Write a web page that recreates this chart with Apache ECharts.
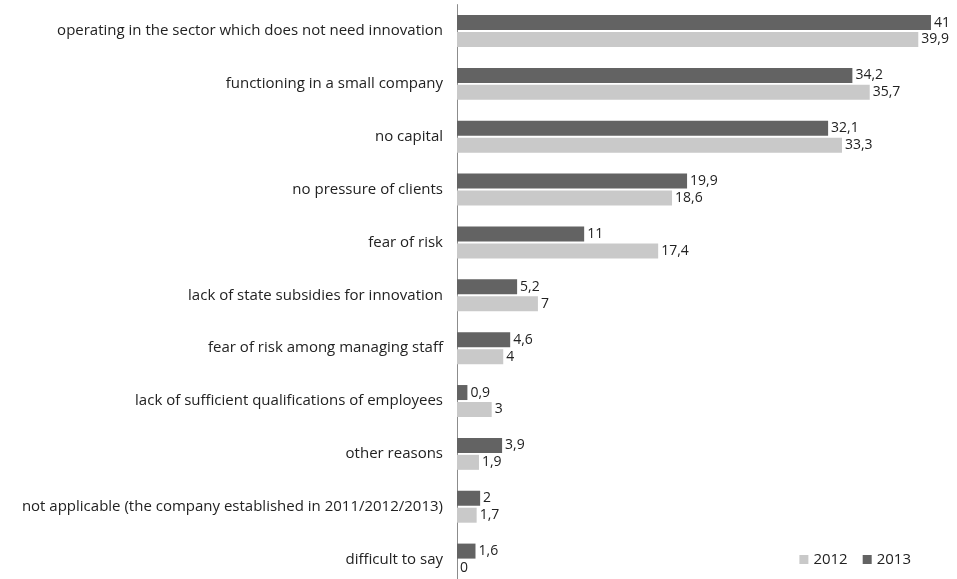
<!DOCTYPE html>
<html>
<head>
<meta charset="utf-8">
<script src="https://cdn.jsdelivr.net/npm/echarts@6/dist/echarts.min.js"></script>
<style>
html, body { margin: 0; padding: 0; background: #fff; overflow: hidden; }
#draw { width: 957px; height: 586px; }
</style>
</head>
<body>
<div id="draw"></div>
<script>
var categories = [
	'operating in the sector which does not need innovation',
	'functioning in a small company',
	'no capital',
	'no pressure of clients',
	'fear of risk',
	'lack of state subsidies for innovation',
	'fear of risk among managing staff',
	'lack of sufficient qualifications of employees',
	'other reasons',
	'not applicable (the company established in 2011/2012/2013)',
	'difficult to say'
];
var values2013 = [41, 34.2, 32.1, 19.9, 11, 5.2, 4.6, 0.9, 3.9, 2, 1.6];
var values2012 = [39.9, 35.7, 33.3, 18.6, 17.4, 7, 4, 3, 1.9, 1.7, 0];

var font = '"Open Sans", Lato, sans-serif';
// 画布比窗口高一点, 最后一类的下半截被裁掉
var myChart = echarts.init(document.getElementById('draw'));

// 数值用逗号做小数点
var fmt = function(p) {
	return String(p.value).replace('.', ',');
};

var option = {
	animation : false,
	textStyle : { fontFamily : font },
	legend : {
		data : [ '2012', '2013' ],
		right : 41,
		bottom : 14,
		itemWidth : 9,
		itemHeight : 9,
		itemGap : 15,
		icon : 'rect',
		textStyle : { fontSize : 15, color : '#222', fontFamily : font }
	},
	grid : {
		left : 457,
		right : 26,
		top : 4.6,
		bottom : 0
	},
	xAxis : {
		type : 'value',
		min : 0,
		max : 41,
		show : false
	},
	yAxis : {
		type : 'category',
		inverse : true,
		data : categories,
		axisLine : { lineStyle : { color : '#8c8c8c', width : 1 } },
		axisTick : { show : false },
		axisLabel : {
			margin : 14,
			fontSize : 15,
			color : '#222',
			fontFamily : font
		}
	},
	series : [ {
		name : '2013',
		type : 'bar',
		data : values2013,
		barWidth : 15,
		barGap : '13%',
		itemStyle : { color : '#636363' },
		label : {
			show : true,
			position : 'right',
			distance : 3,
			fontSize : 14,
			color : '#222',
			fontFamily : font,
			formatter : fmt
		}
	}, {
		name : '2012',
		type : 'bar',
		data : values2012,
		barWidth : 15,
		itemStyle : { color : '#c9c9c9' },
		label : {
			show : true,
			position : 'right',
			distance : 3,
			fontSize : 14,
			color : '#222',
			fontFamily : font,
			formatter : fmt
		}
	} ]
};
myChart.setOption(option);
</script>
</body>
</html>
